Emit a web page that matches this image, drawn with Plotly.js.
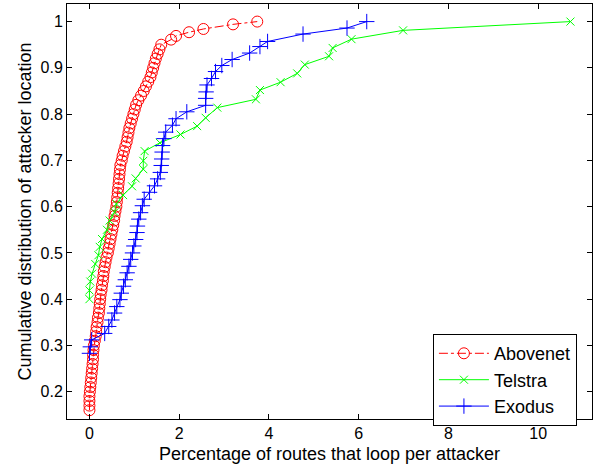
<!DOCTYPE html>
<html>
<head>
<meta charset="utf-8">
<script src="https://cdn.plot.ly/plotly-3.0.1.min.js"></script>
<style>html,body{margin:0;padding:0;background:#fff;}#chart{width:597px;height:465px;}</style>
</head>
<body>
<div id="chart"></div>
<script>
// Abovenet
const aboveX = [0.0,0.0,0.0,0.0,0.01,0.02,0.03,0.04,0.05,0.06,0.07,0.08,0.08,0.09,0.10,0.12,0.14,0.15,0.16,0.18,
  0.19,0.21,0.22,0.23,0.24,0.25,0.27,0.28,0.30,0.31,0.32,0.34,0.36,0.38,0.41,0.43,0.45,0.47,0.49,0.51,
  0.53,0.55,0.56,0.58,0.60,0.61,0.62,0.63,0.64,0.65,0.66,0.67,0.68,0.69,0.72,0.74,0.77,0.80,0.83,0.85,
  0.87,0.89,0.92,0.95,0.98,1.01,1.04,1.09,1.15,1.21,1.26,1.31,1.36,1.39,1.42,1.45,1.48,1.52,1.56,1.60,
  1.82,1.93,2.22,2.54,3.20,3.74];
const aboveY = [0.16,0.17,0.18,0.19,0.20,0.21,0.22,0.23,0.24,0.25,0.26,0.27,0.28,0.29,0.30,0.31,0.32,0.33,0.34,0.35,
  0.36,0.37,0.38,0.39,0.40,0.41,0.42,0.43,0.44,0.45,0.46,0.47,0.48,0.49,0.50,0.51,0.52,0.53,0.54,0.55,
  0.56,0.57,0.58,0.59,0.60,0.61,0.62,0.63,0.64,0.65,0.66,0.67,0.68,0.69,0.70,0.71,0.72,0.73,0.74,0.75,
  0.76,0.77,0.78,0.79,0.80,0.81,0.82,0.83,0.84,0.85,0.86,0.87,0.88,0.89,0.90,0.91,0.92,0.93,0.94,0.95,
  0.961,0.969,0.977,0.984,0.994,1.0];

// Telstra
const telstraX = [0.0,0.0,0.02,0.06,0.13,0.20,0.23,0.28,0.39,0.45,0.56,0.60,0.75,0.95,1.03,1.20,1.20,1.23,1.57,2.03,
  2.40,2.59,2.85,3.71,3.80,4.26,4.63,4.80,5.34,5.42,5.84,6.99,10.72];
const telstraY = [0.40,0.419,0.438,0.455,0.476,0.495,0.513,0.53,0.55,0.57,0.588,0.606,0.625,0.644,0.661,0.681,0.699,0.72,0.738,0.756,
  0.774,0.792,0.814,0.832,0.852,0.869,0.888,0.907,0.925,0.943,0.962,0.981,1.0];

// Exodus
const exodusX = [0.0,0.02,0.05,0.34,0.43,0.50,0.56,0.61,0.68,0.71,0.76,0.80,0.84,0.88,0.92,0.96,0.99,1.03,1.06,1.07,
  1.10,1.14,1.18,1.22,1.34,1.45,1.52,1.58,1.60,1.61,1.62,1.63,1.66,1.70,1.85,1.93,2.17,2.59,2.59,2.60,
  2.62,2.72,2.81,2.95,3.18,3.57,3.80,3.97,4.76,5.74,6.18];
const exodusY = [0.283,0.297,0.312,0.326,0.341,0.355,0.370,0.384,0.399,0.413,0.428,0.442,0.457,0.471,0.486,0.500,0.515,0.529,0.544,0.558,
  0.573,0.587,0.602,0.616,0.631,0.645,0.660,0.674,0.689,0.703,0.718,0.732,0.747,0.761,0.776,0.790,0.805,0.819,0.834,0.848,
  0.863,0.877,0.892,0.905,0.918,0.932,0.946,0.957,0.973,0.986,1.0];

const xTicks = [0,2,4,6,8,10];
const yTicks = [0.2,0.3,0.4,0.5,0.6,0.7,0.8,0.9,1];

const traces = [
  {x: aboveX, y: aboveY, name: 'Abovenet', mode: 'lines+markers', type: 'scatter',
   line: {color: '#ff0000', width: 1, dash: 'dashdot'},
   marker: {symbol: 'circle-open', size: 11, color: '#ff0000', line: {width: 1, color: '#ff0000'}}},
  {x: telstraX, y: telstraY, name: 'Telstra', mode: 'lines+markers', type: 'scatter',
   line: {color: '#00ff00', width: 1},
   marker: {symbol: 'x-thin-open', size: 8, color: '#00ff00', line: {width: 1, color: '#00ff00'}}},
  {x: exodusX, y: exodusY, name: 'Exodus', mode: 'lines+markers', type: 'scatter',
   line: {color: '#0000ff', width: 1},
   marker: {symbol: 'cross-thin-open', size: 11, color: '#0000ff', line: {width: 1, color: '#0000ff'}}}
];

const fontFam = 'Liberation Sans, Arial, Helvetica, sans-serif';
const layout = {
  width: 597, height: 465,
  margin: {l: 67, r: 5, t: 4, b: 46},
  paper_bgcolor: '#fff', plot_bgcolor: '#fff',
  font: {family: fontFam, color: '#000', size: 16},
  showlegend: true,
  legend: {x: 0.697, y: 0.2046, xanchor: 'left', yanchor: 'top',
    bordercolor: '#000', borderwidth: 1, bgcolor: '#fff',
    font: {family: fontFam, size: 18, color: '#000'}, itemwidth: 50, tracegroupgap: 0},
  xaxis: {range: [-0.5, 11.2], tickvals: xTicks, ticktext: xTicks.map(String),
    ticks: 'inside', ticklen: 5, tickcolor: '#000', showline: true, linecolor: '#000', linewidth: 1,
    mirror: 'ticks', showgrid: false, zeroline: false,
    tickfont: {family: fontFam, size: 16},
    title: {text: 'Percentage of routes that loop per attacker', font: {family: fontFam, size: 18}, standoff: 6}},
  yaxis: {range: [0.141, 1.038], tickvals: yTicks, ticktext: yTicks.map(String),
    ticks: 'inside', ticklen: 5, tickcolor: '#000', showline: true, linecolor: '#000', linewidth: 1,
    mirror: 'ticks', showgrid: false, zeroline: false,
    tickfont: {family: fontFam, size: 16},
    title: {text: 'Cumulative distribution of attacker location', font: {family: fontFam, size: 18}, standoff: 4}}
};

Plotly.newPlot('chart', traces, layout, {displayModeBar: false, staticPlot: true});
</script>
</body>
</html>
